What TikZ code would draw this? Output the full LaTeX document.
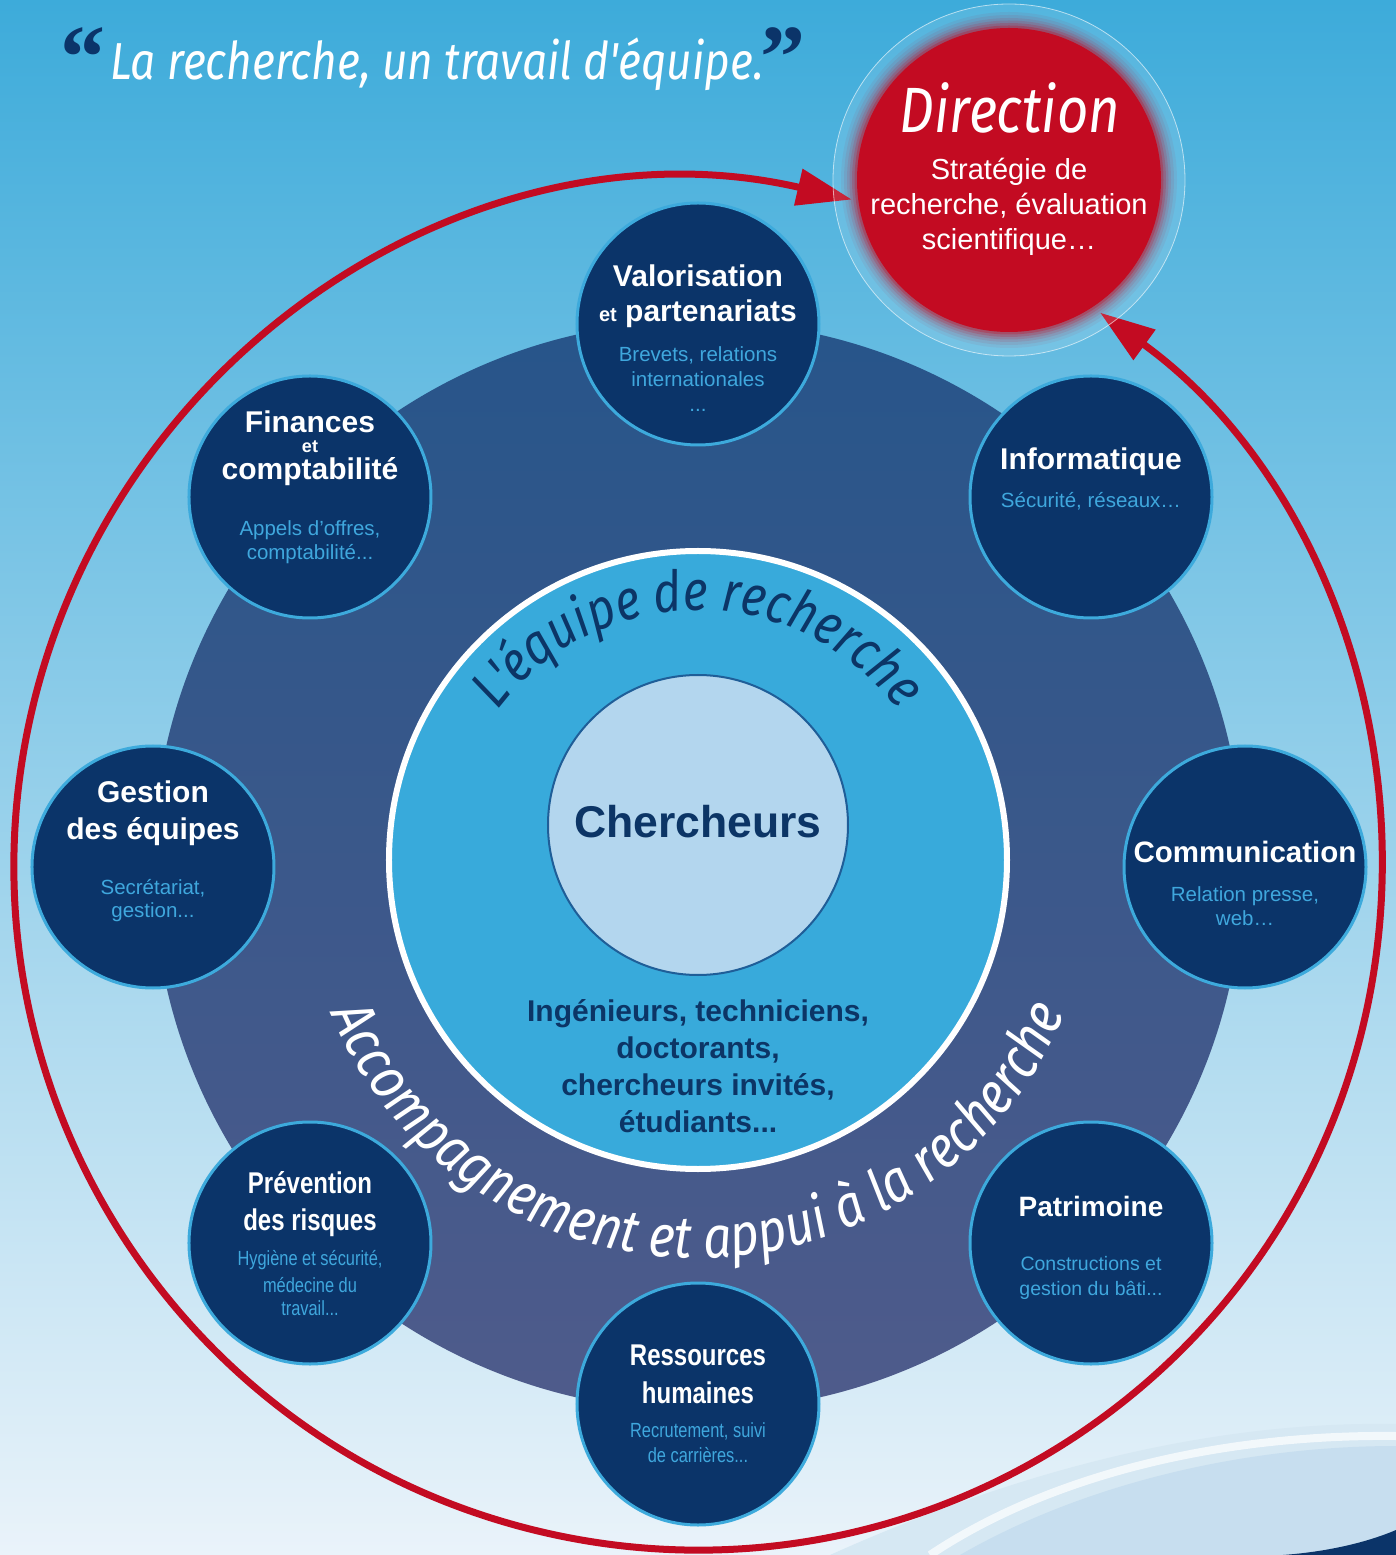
\documentclass[tikz,border=0pt]{standalone}
\usepackage{fontspec}
\setmainfont{Liberation Sans}
\newfontfamily\handfont{Fira Sans}[FakeStretch=0.85]
\newfontfamily\narrowfont{Liberation Sans}[FakeStretch=0.8]
\newfontfamily\quotefont{Liberation Serif}
\usetikzlibrary{calc,arrows.meta,decorations.text}
\definecolor{bgtop}{HTML}{3DABDA}
\definecolor{bgmid}{HTML}{94C9E7}
\definecolor{bgbot}{HTML}{EAF3FA}
\definecolor{wavelight}{HTML}{D6E8F3}
\definecolor{wavedark}{HTML}{C7DEEF}
\definecolor{ringtop}{HTML}{27558A}
\definecolor{ringbot}{HTML}{4F5B8B}
\definecolor{teamblue}{HTML}{38AADB}
\definecolor{coreblue}{HTML}{B3D6EE}
\definecolor{coreline}{HTML}{1F5E98}
\definecolor{navy}{HTML}{0B3469}
\definecolor{rim}{HTML}{3DAADC}
\definecolor{subblue}{HTML}{3FA7DD}
\definecolor{dirred}{HTML}{C30B22}
\definecolor{darktxt}{HTML}{0C3566}
\tikzset{
  sat/.style={circle, fill=navy, draw=rim, line width=3pt, minimum size=242pt, inner sep=0pt},
  ttl/.style={anchor=base, inner sep=0pt, text=white, font=\bfseries\fontsize{30}{36}\selectfont},
  sub/.style={anchor=base, inner sep=0pt, text=subblue, font=\fontsize{20.5}{24}\selectfont},
  nttl/.style={ttl, font=\narrowfont\bfseries\fontsize{30}{36}\selectfont},
  nsub/.style={sub, font=\narrowfont\fontsize{20.5}{24}\selectfont},
  team/.style={circle, fill=teamblue, draw=white, line width=6pt, minimum size=618pt, inner sep=0pt},
  core/.style={circle, fill=coreblue, draw=coreline, line width=2pt, minimum size=300pt, inner sep=0pt},
  teamtxt/.style={anchor=base, inner sep=0pt, text=darktxt, font=\bfseries\fontsize{30}{36}\selectfont},
  dirdisk/.style={circle, fill=dirred, minimum size=304pt, inner sep=0pt},
  dirttl/.style={anchor=base, inner sep=0pt, text=white, font=\handfont\itshape\fontsize{64}{70}\selectfont},
  dirsub/.style={anchor=base, inner sep=0pt, text=white, font=\fontsize{29}{34}\selectfont},
  redring/.style={dirred, line width=7pt, {Triangle[length=55pt,width=36pt]}-{Triangle[length=55pt,width=36pt]}},
  quote/.style={anchor=base, inner sep=0pt, text=navy, font=\quotefont\bfseries\fontsize{90}{90}\selectfont}
}

\begin{document}
\begin{tikzpicture}[x=1pt,y=1pt]
  % fond
  \shade[top color=bgtop, middle color=bgmid, bottom color=bgbot] (-698,-689) rectangle (698,866);
  \useasboundingbox (-698,-689) rectangle (698,866);
  \fill[wavelight] (132,-689) .. controls (330,-600) and (520,-555) .. (698,-558) -- (698,-689) -- cycle;
  \draw[white, opacity=.7, line width=8pt] (232,-689) .. controls (350,-610) and (520,-568) .. (698,-570);
  \fill[wavedark] (262,-689) .. controls (385,-618) and (545,-580) .. (698,-580) -- (698,-689) -- cycle;
  \fill[navy] (585,-689) .. controls (625,-686) and (665,-678) .. (698,-664) -- (698,-689) -- cycle;

  \coordinate (O) at (0,0);
  \coordinate (dirc) at (311,686);
  \coordinate (arcL) at (77:684);
  % cercle rouge, les deux fleches vont a la direction
  \draw[redring] (arcL) arc[start angle=77, end angle=414, radius=684];

  % direction
  \filldraw[draw=white, draw opacity=.6, line width=.8pt, fill=white, fill opacity=.12] (dirc) circle (176);
  \foreach \r/\o in {168/.06, 165/.08, 162/.1, 159.5/.14, 157/.2, 154.5/.3}
    \fill[dirred, opacity=\o] (dirc) circle (\r);
  \node[dirdisk] (dir) at (dirc) {};
  \path (dir) +(1,47) node[dirttl] (dir1) {Direction}
              +(0,0) node[dirsub] (dir2) {Stratégie de}
              +(0,-35) node[dirsub] (dir3) {recherche, évaluation}
              +(0,-70) node[dirsub] (dir4) {scientifique…};

  % accompagnement et equipe
  \shade[top color=ringtop, bottom color=ringbot] (O) circle (545);
  \node[team] (team) at (0,6) {};
  \node[core] (core) at (0,41) {};
  \node[teamtxt, font=\bfseries\fontsize{44.5}{50}\selectfont] (cherch) at (0,28) {Chercheurs};
  \path (team) +(0,-161) node[teamtxt] (ing1) {Ingénieurs, techniciens,}
               +(0,-198) node[teamtxt] (ing2) {doctorants,}
               +(0,-235) node[teamtxt] (ing3) {chercheurs invités,}
               +(0,-272) node[teamtxt] (ing4) {étudiants...};

  % les services
  \node[sat] (valo) at (0,542) {};
  \path (valo) +(0,37) node[ttl] (valo1) {Valorisation}
               +(0,2) node[ttl] (valo2) {{\fontsize{20}{24}\selectfont et} partenariats}
               +(0,-38) node[sub] (valo3) {Brevets, relations}
               +(0,-63) node[sub] (valo4) {internationales}
               +(0,-88) node[sub] (valo5) {...};

  \node[sat] (fin) at (-388,369) {};
  \path (fin) +(0,64) node[ttl] (fin1) {Finances}
              +(0,44) node[ttl, font=\bfseries\fontsize{18}{20}\selectfont] (fin2) {et}
              +(0,17) node[ttl] (fin3) {comptabilité}
              +(0,-39) node[sub] (fin4) {Appels d’offres,}
              +(0,-63) node[sub] (fin5) {comptabilité...};

  \node[sat] (info) at (393,369) {};
  \path (info) +(0,27) node[ttl] (info1) {Informatique}
               +(0,-11) node[sub] (info2) {Sécurité, réseaux…};

  \node[sat] (gest) at (-545,-1) {};
  \path (gest) +(0,64) node[ttl] (gest1) {Gestion}
               +(0,27) node[ttl] (gest2) {des équipes}
               +(0,-27) node[sub] (gest3) {Secrétariat,}
               +(0,-51) node[sub] (gest4) {gestion...};

  \node[sat] (comm) at (547,-1) {};
  \path (comm) +(0,4) node[ttl, font=\bfseries\fontsize{29.5}{36}\selectfont] (comm1) {Communication}
               +(0,-34) node[sub] (comm2) {Relation presse,}
               +(0,-58) node[sub] (comm3) {web…};

  \node[sat] (prev) at (-388,-377) {};
  \path (prev) +(0,50) node[nttl] (prev1) {Prévention}
               +(0,13) node[nttl] (prev2) {des risques}
               +(0,-22) node[nsub] (prev3) {Hygiène et sécurité,}
               +(0,-49) node[nsub] (prev4) {médecine du}
               +(0,-72) node[nsub] (prev5) {travail...};

  \node[sat] (patri) at (393,-377) {};
  \path (patri) +(0,27) node[ttl, font=\bfseries\fontsize{28}{34}\selectfont] (patri1) {Patrimoine}
                +(0,-27) node[sub, font=\fontsize{19.5}{24}\selectfont] (patri2) {Constructions et}
                +(0,-52) node[sub, font=\fontsize{19.5}{24}\selectfont] (patri3) {gestion du bâti...};

  \node[sat] (rh) at (0,-538) {};
  \path (rh) +(0,39) node[nttl] (rh1) {Ressources}
             +(0,1) node[nttl] (rh2) {humaines}
             +(0,-33) node[nsub] (rh3) {Recrutement, suivi}
             +(0,-58) node[nsub] (rh4) {de carrières...};

  % textes en arc
  \path[decorate, decoration={text along path, text align=center, text color=darktxt,
      text={|\handfont\itshape\fontsize{56}{60}\selectfont|L'équipe de recherche}}]
    ($(team)+(150:250)$) arc[start angle=150, end angle=30, radius=250];
  \path[decorate, decoration={text along path, text align=center, text color=white,
      text={|\handfont\itshape\fontsize{59}{64}\selectfont|Accompagnement et appui à la recherche}}]
    ($(team)+(200:398)$) arc[start angle=200, end angle=340, radius=398];

  % titre
  \node[anchor=base, inner sep=0pt, text=white, font=\handfont\itshape\fontsize{52}{56}\selectfont]
    (head) at (-261,786) {La recherche, un travail d'équipe.};
  \node[quote] (q1) at (-615,778) {“};
  \node[quote] (q2) at (85,778) {”};
\end{tikzpicture}
\end{document}
